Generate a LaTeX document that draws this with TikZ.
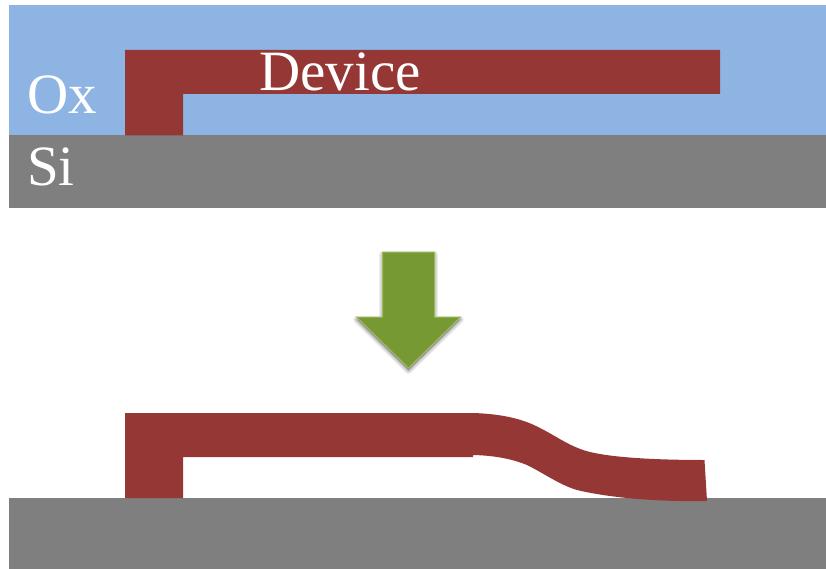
\documentclass[tikz,border=0pt]{standalone}
\usepackage{fontspec}
\setmainfont{Liberation Serif}
\usepackage{xcolor}
\definecolor{oxideblue}{HTML}{8EB4E3}
\definecolor{siliconGray}{HTML}{7F7F7F}
\definecolor{deviceRed}{HTML}{953735}
\definecolor{arrowGreen}{HTML}{779933}
\definecolor{arrowEdge}{HTML}{9BBB59}
\newcommand{\arrowpath}{(382.5,252) -- (434.5,252) -- (434.5,317) -- (460.5,317)
    -- (408.5,368) -- (356.5,317) -- (382.5,317) -- cycle}
\begin{document}
\begin{tikzpicture}[
        x=1pt, y=-1pt,
        oxide/.style={fill=oxideblue, draw=none},
        silicon/.style={fill=siliconGray, draw=none},
        device/.style={fill=deviceRed, draw=none},
        release/.style={fill=arrowGreen, draw=arrowEdge, line width=1pt, line join=miter},
        blur/.style={draw=black, fill=black, opacity=0.045, line join=round, yshift=-2.5pt},
        label/.style={anchor=base west, text=white, inner sep=0pt, font=\fontsize{57}{60}\selectfont}
    ]

        \useasboundingbox (0,0) rectangle (826,569);

        % before etching
        \fill[oxide] (9,5) rectangle (826,135);
        \fill[silicon] (9,135) rectangle (826,208);
        \fill[device] (125,50) -- (720,50) -- (720,94) -- (183,94) -- (183,135.5) -- (125,135.5) -- cycle;

        \node[label] (ox) at (27,114) {Ox};
        \node[label] (si) at (27,186) {Si};
        \node[label] (dev) at (259,91) {Device};

        % arrow
        \foreach \w in {1,...,6} {
            \path[blur, line width=\w*1.2pt] \arrowpath;
        }
        \path[release] \arrowpath;

        % after etching
        \fill[silicon] (9,498) rectangle (826,569);
        \fill[device] (125,413) -- (473,413)
            .. controls (505,414) and (525,420) .. (540,428)
            .. controls (558,437) and (570,447) .. (590,452)
            .. controls (615,458) and (660,460) .. (704.5,460)
            -- (707,501)
            .. controls (660,502) and (610,498) .. (577,490)
            .. controls (560,485) and (545,474) .. (527,465)
            .. controls (512,459) and (495,455.5) .. (473,455)
            -- (473,457) -- (183,457) -- (183,498) -- (125,498) -- cycle;

    \end{tikzpicture}
\end{document}
